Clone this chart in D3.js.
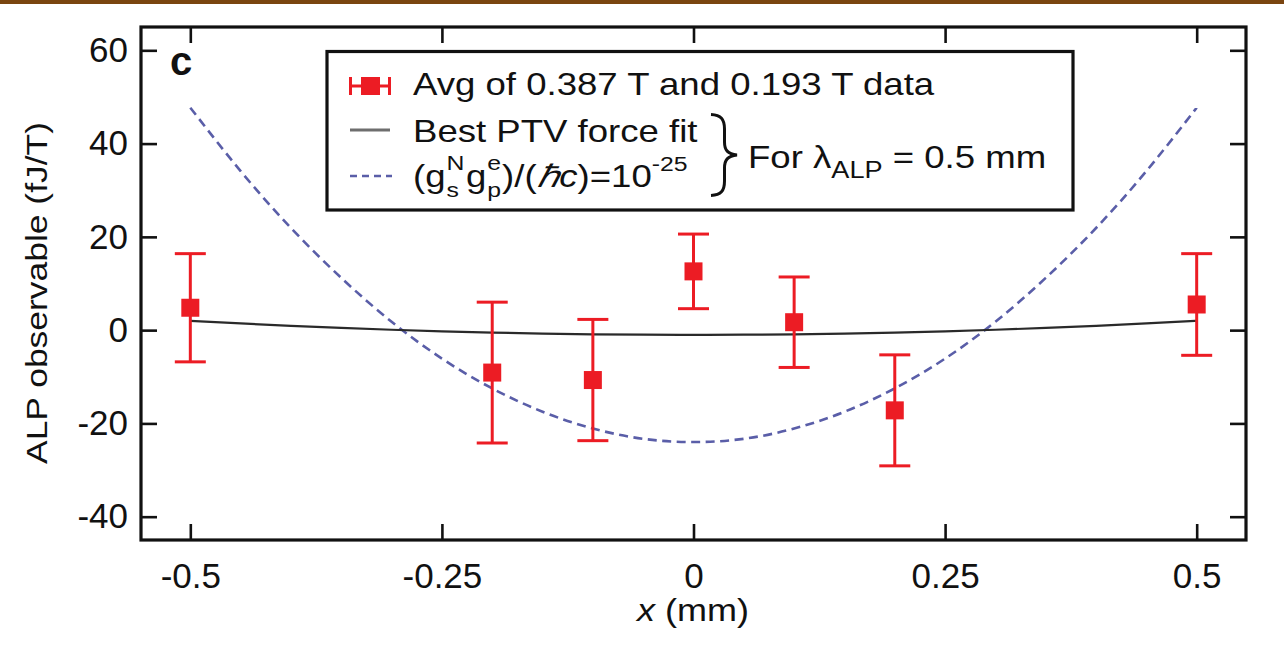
<!DOCTYPE html>
<html>
<head>
<meta charset="utf-8">
<script src="https://cdn.jsdelivr.net/npm/d3@7"></script>
<style>
  html, body { margin: 0; padding: 0; background: #fff; }
  svg { display: block; }
  text { font-family: "Liberation Sans", Arial, Helvetica, sans-serif; fill: #111; }
</style>
</head>
<body>
<svg id="chart" width="1284" height="655"></svg>
<script>
// ---------- data ----------
const pointX = [-0.5, -0.2, -0.1, 0, 0.1, 0.2, 0.5];
const pointY = [4.8, -9.1, -10.7, 12.6, 1.7, -17.2, 5.5];
const pointErr = [11.6, 15.1, 13.0, 8.0, 9.7, 11.9, 10.9];

const curveX = [-0.5, -0.45, -0.4, -0.35, -0.3, -0.25, -0.2, -0.15, -0.1, -0.05, 0,
                0.05, 0.1, 0.15, 0.2, 0.25, 0.3, 0.35, 0.4, 0.45, 0.5];
const alpCurve = [47.7, 34.1, 21.9, 11.2, 1.8, -6.1, -12.5, -17.5, -21.1, -23.3, -24.0,
                  -23.3, -21.1, -17.5, -12.5, -6.1, 1.8, 11.2, 21.9, 34.1, 47.7];
const fitCurve = [2.0, 1.43, 0.92, 0.47, 0.08, -0.26, -0.53, -0.74, -0.89, -0.98, -1.0,
                  -0.98, -0.89, -0.74, -0.53, -0.26, 0.08, 0.47, 0.92, 1.43, 2.0];

const xTicks = [-0.5, -0.25, 0, 0.25, 0.5];
const xTickLabels = ["-0.5", "-0.25", "0", "0.25", "0.5"];
const yTicks = [-40, -20, 0, 20, 40, 60];
const yTickLabels = ["-40", "-20", "0", "20", "40", "60"];

// ---------- layout ----------
const svg = d3.select("#chart");
const L = 141, R = 1246, T = 27, B = 540;
const RED = "#ec1c24", BLUE = "#5a5ea8", FIT = "#2a2a2a";

svg.append("rect").attr("x", 0).attr("y", 0).attr("width", 1284).attr("height", 4).attr("fill", "#7a4510");

const x = d3.scaleLinear().domain([-0.549, 0.549]).range([L, R]);
const y = d3.scaleLinear().domain([-45, 65]).range([B, T]);

// axes (ticks inward)
function styleAxis(g) {
  g.select(".domain").remove();
  g.selectAll(".tick line").attr("stroke", "#111").attr("stroke-width", 2.6);
  g.selectAll(".tick text").attr("fill", "#111").style("font-size", "35px")
    .style("font-family", '"Liberation Sans", Arial, sans-serif');
}
svg.append("g").attr("transform", `translate(0,${B})`)
  .call(d3.axisBottom(x).tickValues(xTicks).tickFormat((d, i) => xTickLabels[i]).tickSize(-16).tickPadding(23))
  .call(styleAxis);
svg.append("g").attr("transform", `translate(0,${T})`)
  .call(d3.axisTop(x).tickValues(xTicks).tickFormat("").tickSize(-16))
  .call(styleAxis);
svg.append("g").attr("transform", `translate(${L},0)`)
  .call(d3.axisLeft(y).tickValues(yTicks).tickFormat((d, i) => yTickLabels[i]).tickSize(-16).tickPadding(13))
  .call(styleAxis);
svg.append("g").attr("transform", `translate(${R},0)`)
  .call(d3.axisRight(y).tickValues(yTicks).tickFormat("").tickSize(-16))
  .call(styleAxis);

svg.append("rect").attr("x", L).attr("y", T).attr("width", R - L).attr("height", B - T)
  .attr("fill", "none").attr("stroke", "#111").attr("stroke-width", 3.2);

// curves
const line = d3.line().curve(d3.curveNatural);
svg.append("path")
  .attr("d", line(curveX.map((v, i) => [x(v), y(alpCurve[i])])))
  .attr("fill", "none").attr("stroke", BLUE).attr("stroke-width", 2.6).attr("stroke-dasharray", "9,5.5");
svg.append("path")
  .attr("d", line(curveX.map((v, i) => [x(v), y(fitCurve[i])])))
  .attr("fill", "none").attr("stroke", FIT).attr("stroke-width", 2.2);

// error bars + squares
const pts = svg.append("g");
const cap = 15.5, sq = 18;
pointX.forEach((v, i) => {
  const cx = x(v), cy = y(pointY[i]);
  const yt = y(pointY[i] + pointErr[i]), yb = y(pointY[i] - pointErr[i]);
  pts.append("line").attr("x1", cx).attr("x2", cx).attr("y1", yt).attr("y2", yb).attr("stroke", RED).attr("stroke-width", 3);
  pts.append("line").attr("x1", cx - cap).attr("x2", cx + cap).attr("y1", yt).attr("y2", yt).attr("stroke", RED).attr("stroke-width", 3);
  pts.append("line").attr("x1", cx - cap).attr("x2", cx + cap).attr("y1", yb).attr("y2", yb).attr("stroke", RED).attr("stroke-width", 3);
  pts.append("rect").attr("x", cx - sq / 2).attr("y", cy - sq / 2).attr("width", sq).attr("height", sq).attr("fill", RED);
});

// panel letter
svg.append("text").attr("x", 170).attr("y", 75).style("font-size", "40px").style("font-weight", "bold").text("c");

// axis titles
svg.append("text").attr("transform", "translate(47,293) rotate(-90)").attr("text-anchor", "middle")
  .style("font-size", "29px").attr("textLength", 342).attr("lengthAdjust", "spacingAndGlyphs")
  .text("ALP observable (fJ/T)");
const xl = svg.append("text").attr("x", 693).attr("y", 621).attr("text-anchor", "middle").style("font-size", "31px")
  .attr("textLength", 112).attr("lengthAdjust", "spacingAndGlyphs");
xl.append("tspan").style("font-style", "italic").text("x");
xl.append("tspan").text(" (mm)");

// legend
const lg = svg.append("g");
lg.append("rect").attr("x", 327).attr("y", 51.5).attr("width", 746).attr("height", 158.5)
  .attr("fill", "#fff").attr("stroke", "#111").attr("stroke-width", 3.2);
// marker 1
lg.append("line").attr("x1", 350).attr("x2", 390).attr("y1", 86).attr("y2", 86).attr("stroke", RED).attr("stroke-width", 3);
lg.append("line").attr("x1", 350.5).attr("x2", 350.5).attr("y1", 77).attr("y2", 95).attr("stroke", RED).attr("stroke-width", 3);
lg.append("line").attr("x1", 389.5).attr("x2", 389.5).attr("y1", 77).attr("y2", 95).attr("stroke", RED).attr("stroke-width", 3);
lg.append("rect").attr("x", 361).attr("y", 77).attr("width", 19).attr("height", 18).attr("fill", RED);
// marker 2
lg.append("line").attr("x1", 350).attr("x2", 390).attr("y1", 130).attr("y2", 130).attr("stroke", "#6e6e6e").attr("stroke-width", 3);
// marker 3
lg.append("line").attr("x1", 350).attr("x2", 392).attr("y1", 176).attr("y2", 176).attr("stroke", BLUE).attr("stroke-width", 2.6).attr("stroke-dasharray", "7,5");

const SX = 1.18, FS = 31;
function stretched(tx, ty) {
  return lg.append("g").attr("transform", `translate(${tx},${ty}) scale(${SX},1)`);
}
stretched(413, 95).append("text").style("font-size", FS + "px").text("Avg of 0.387 T and 0.193 T data");
stretched(413, 141.5).append("text").style("font-size", FS + "px").text("Best PTV force fit");

// formula line
const f = stretched(413, 186.5);
const SUB = 21;
f.append("text").attr("x", 0).style("font-size", FS + "px").text("(g");
f.append("text").attr("x", 28.5).attr("y", -16.5).style("font-size", SUB + "px").text("N");
f.append("text").attr("x", 28.5).attr("y", 10).style("font-size", SUB + "px").text("s");
f.append("text").attr("x", 45).style("font-size", FS + "px").text("g");
f.append("text").attr("x", 63).attr("y", -16.5).style("font-size", SUB + "px").text("e");
f.append("text").attr("x", 63).attr("y", 10).style("font-size", SUB + "px").text("p");
const f2 = f.append("text").attr("x", 75.5).style("font-size", FS + "px");
f2.append("tspan").text(")/(");
f2.append("tspan").style("font-style", "italic").text("\u210F");
f2.append("tspan").style("font-style", "italic").text("c");
f2.append("tspan").text(")=10");
f2.append("tspan").attr("dy", -16).style("font-size", SUB + "px").text("-25");

// brace
lg.append("path")
  .attr("d", "M711,114.5 C721,115 724.5,119 724.5,129 L724.5,142 C724.5,150 727.5,154 737,155 C727.5,156 724.5,160 724.5,168 L724.5,181 C724.5,191 721,195 711,195.5")
  .attr("fill", "none").attr("stroke", "#111").attr("stroke-width", 3);

// For lambda_ALP = 0.5 mm
const g4 = stretched(748, 168);
const t4 = g4.append("text").style("font-size", FS + "px");
t4.append("tspan").text("For \u03BB");
t4.append("tspan").attr("dy", 10).style("font-size", "23px").text("ALP");
t4.append("tspan").attr("dy", -10).text(" = 0.5 mm");
</script>
</body>
</html>
